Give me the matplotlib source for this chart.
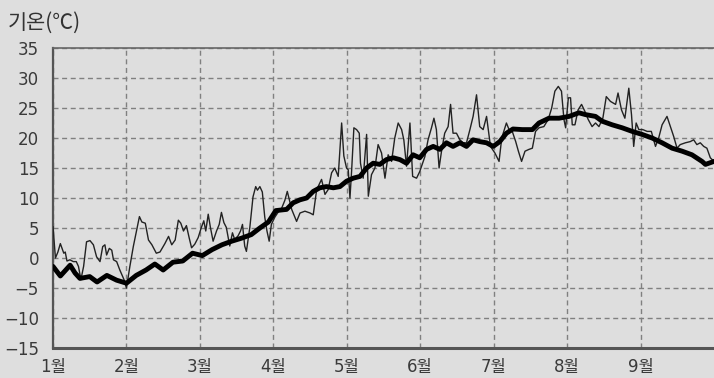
import matplotlib
matplotlib.use("Agg")
import matplotlib.pyplot as plt

plt.rcParams['font.family'] = ['DejaVu Sans', 'Noto Sans CJK KR']
plt.rcParams['lines.scale_dashes'] = False

# x in days, 30-day uniform months (1월 .. 9월)
month_labels = ["1월", "2월", "3월", "4월", "5월", "6월", "7월", "8월", "9월"]
month_ticks = [0, 30, 60, 90, 120, 150, 180, 210, 240]
y_ticks = [-15, -10, -5, 0, 5, 10, 15, 20, 25, 30, 35]

daily_day = [0, 1, 2, 3, 4.4, 5, 5.7, 6.9, 8.3, 9.5, 10.4, 11.4, 12.5, 13.7, 15.1, 16.5,
             17.8, 19.2, 20.3, 21.2, 21.9, 23, 24, 24.7, 26, 27.3, 29, 30, 31.4, 32.8,
             34.2, 35.3, 36.3, 37.7, 39, 40.4, 42.2, 43.7, 45.7, 47.2, 48.5, 49.9, 51.2,
             52.2, 53.3, 54.5, 55.6, 56.6, 57.9, 59.3, 60.6, 61.6, 62.4, 63.4, 64.3, 65.4,
             66.8, 67.9, 68.8, 69.8, 70.8, 72.2, 73.3, 74.2, 75.6, 76.6, 77.4, 78.3, 79,
             80.4, 81.7, 82.8, 83.5, 84.5, 85.5, 86.5, 87.4, 88.3, 89.2, 90.6, 91.9, 93.3,
             94.7, 95.7, 97.5, 99.5, 100.9, 102.9, 105, 106.3, 107.7, 109.7, 111.1, 112.4,
             113.8, 115.1, 116.5, 117.9, 118.8, 119.9, 120.6, 121.3, 122, 122.9, 124,
             125.1, 125.6, 126.7, 128.1, 128.8, 130.1, 131.5, 132.8, 134.2, 135.6, 136.9,
             138.3, 139.6, 141, 142.4, 143.3, 144.4, 145.8, 146.9, 148.5, 149.8, 151.9,
             153.2, 154.6, 155.6, 156.6, 157.7, 158.7, 160, 161.4, 162.4, 163.4, 164.8,
             166.2, 167.5, 168.9, 170.3, 171.6, 173, 174.3, 175.7, 177.1, 178.7, 180.5,
             182.2, 183.3, 185.2, 186.3, 187.6, 189, 190.1, 191.4, 192.8, 194.4, 195.8,
             197.1, 198.5, 200.5, 202.3, 203.7, 205, 206.4, 207.7, 208.7, 209.4, 210.5,
             211.4, 212.1, 213.2, 214.5, 215.9, 217.3, 218.6, 220.2, 221.6, 223, 224.6,
             226, 227.7, 229.8, 230.8, 232.2, 233.6, 235.2, 236.3, 237.2, 238.2, 239.3,
             240.9, 242.7, 244.4, 246.1, 247.4, 248.8, 250.8, 252.2, 253.5, 254.9, 256.2,
             258.3, 260.3, 261.7, 263, 264.4, 265.8, 267.1, 268.5, 270]
daily_temp = [5.2, 0, 1, 2.4, 0.8, 1, -0.5, -0.3, -0.6, -0.6, -1.4, -3.6, -1.4, 2.7, 2.9, 2.2,
              0.2, -0.6, 1.9, 2.2, 0.5, 1.6, 1.3, -0.3, -0.6, -2, -3.6, -5, -1.4, 1.9,
              4.7, 6.9, 6.0, 5.8, 3, 2.2, 0.8, 1, 2.4, 3.6, 2.2, 3, 6.3,
              5.8, 4.5, 5.4, 3.4, 1.7, 2.3, 3.4, 5.1, 6.2, 4.5, 7.3, 5.1, 2.8,
              4.5, 5.6, 7.6, 5.9, 5.1, 2.0, 4.2, 3.1, 3.7, 4.5, 5.6, 2, 1.1,
              5.1, 10.2, 11.9, 11.3, 11.9, 11, 6.8, 4.5, 2.8, 5.6, 6.8, 7.6, 8.2,
              9.6, 11.1, 8.1, 6.1, 7.5, 7.8, 7.5, 7.2, 11.4, 13.1, 10.6, 11.4,
              14.2, 15, 13.6, 22.5, 17, 15, 14.7, 10, 14.7, 21.7, 21.4,
              20.8, 15.8, 13.3, 20.6, 10.3, 13.9, 15, 18.9, 17.5, 13.3, 17.2,
              16.1, 20, 22.5, 21.4, 19.7, 15.3, 22.5, 13.6, 13.3, 14.4, 16.9,
              19.7, 21.7, 23.3, 21.4, 15, 17.8, 20.8, 21.9, 25.6, 20.8, 20.8,
              19.7, 19.2, 19.2, 21.4, 23.6, 27.2, 21.9, 21.4, 23.6, 18.6, 17.5,
              16.1, 20, 22.5, 21.4, 21.1, 19.4, 17.8, 16.1, 17.8, 18.1, 18.3,
              21.1, 21.7, 21.9, 23.1, 25, 27.8, 28.6, 27.8, 23.1, 21.7, 26.7,
              26.7, 22.2, 22.2, 24.7, 25.6, 24.4, 23.1, 21.9, 22.5, 21.9, 23.3,
              26.9, 26.1, 25.6, 27.5, 24.7, 23.3, 28.3, 23.9, 18.6, 22.5, 21.4,
              21.4, 21.1, 21.1, 18.6, 20, 22.2, 23.6, 21.9, 20.3, 18.3, 18.9,
              19.2, 19.4, 19.7, 18.9, 19.2, 18.6, 18.3, 16.7, 16.1]

normal_day = [0, 3, 7, 9, 11, 15, 18, 22, 26, 30, 34, 38, 41.6, 45, 49, 53, 57, 61, 65, 69,
              73, 77, 81, 84.5, 88, 91, 95.4, 98.1, 100.9, 103.6, 106.3, 109, 111.7, 114.5,
              117.2, 119.9, 122.6, 125.4, 128.1, 130.8, 133.5, 136.2, 139, 141.7, 144.4,
              147.1, 149.8, 152.6, 155.3, 158, 160.7, 163.4, 166.2, 168.9, 171.6, 174.3,
              177.1, 179.8, 182.5, 185.2, 187.9, 191.7, 195.8, 198.5, 202.6, 206.7, 210.8,
              214.8, 217.5, 221.6, 224.3, 228.4, 232.5, 236.6, 240.6, 244.7, 248.8, 252.9,
              257, 261, 265.1, 266.5, 270]
normal_temp = [-1.4, -3.0, -1.2, -2.5, -3.4, -3.1, -4.0, -2.9, -3.7, -4.2, -2.9, -2.0, -1.0,
               -2.0, -0.7, -0.5, 0.8, 0.4, 1.4, 2.2, 2.8, 3.3, 3.9, 5.0, 6.0, 7.9, 8.1, 9.2,
               9.7, 10.0, 11.1, 11.7, 11.9, 11.7, 11.9, 12.8, 13.3, 13.6, 15.0, 15.8, 15.6,
               16.4, 16.7, 16.4, 15.8, 17.2, 16.7, 18.1, 18.6, 18.1, 19.2, 18.6, 19.2, 18.6,
               19.7, 19.4, 19.2, 18.6, 19.4, 20.8, 21.5, 21.4, 21.4, 22.5, 23.3, 23.3, 23.6,
               24.2, 23.9, 23.6, 22.8, 22.2, 21.7, 21.1, 20.6, 20.0, 19.2, 18.3, 17.8, 17.2,
               16.1, 15.6, 16.1]

bg = "#dedede"
fig = plt.figure(figsize=(7.14, 3.78), dpi=100, facecolor=bg)
ax = fig.add_axes([53 / 714, 30 / 378, 1 - 53 / 714, 300 / 378])
ax.set_facecolor(bg)

ax.set_xlim(0, 270)
ax.set_ylim(-15, 35)
ax.set_xticks(month_ticks)
ax.set_xticklabels(month_labels)
ax.set_yticks(y_ticks)
ax.tick_params(length=0, labelsize=12, labelcolor="#3a3a3a")
ax.tick_params(axis='x', pad=7)
ax.tick_params(axis='y', pad=10)
ax.grid(True, color="#808080", linestyle=(0, (3.6, 2.6)), linewidth=1.0)
ax.set_axisbelow(True)

ax.spines['right'].set_visible(False)
ax.spines['left'].set_color("#555555")
ax.spines['left'].set_linewidth(1.6)
ax.spines['top'].set_color("#666666")
ax.spines['top'].set_linewidth(1.2)
ax.spines['bottom'].set_color("#555555")
ax.spines['bottom'].set_linewidth(2.2)

ax.plot(daily_day, daily_temp, color="#222222", linewidth=1.0, zorder=3)
ax.plot(normal_day, normal_temp, color="#000000", linewidth=3.5, zorder=4,
        solid_joinstyle='round', solid_capstyle='round')

fig.text(8 / 714, 1 - 23 / 378, "기온(℃)", fontsize=15, color="#333333",
         ha='left', va='center', family=['Noto Sans CJK KR', 'DejaVu Sans'])

fig.savefig("out.png", dpi=100, facecolor=bg)
